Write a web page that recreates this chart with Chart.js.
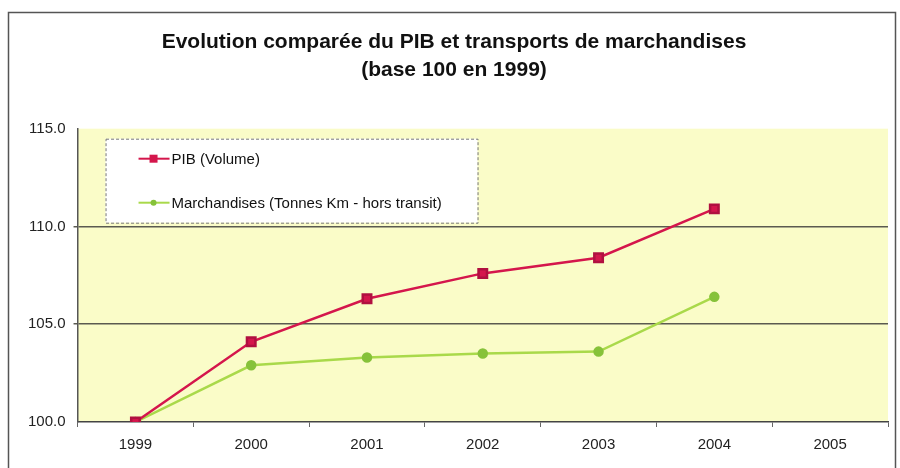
<!DOCTYPE html>
<html>
<head>
<meta charset="utf-8">
<script src="https://cdn.jsdelivr.net/npm/chart.js@4/dist/chart.umd.min.js"></script>
<style>
  html, body { margin: 0; padding: 0; background: #fff; }
  #wrap { width: 900px; height: 468px; }
</style>
</head>
<body>
<div id="wrap"><canvas id="canvas" width="900" height="468"></canvas></div>
<script>
const years = ['1999', '2000', '2001', '2002', '2003', '2004', '2005']
const pib = [100, 104.1, 106.3, 107.6, 108.4, 110.9, null]
const marchandises = [100, 102.9, 103.3, 103.5, 103.6, 106.4, null]
const yTicks = [100, 105, 110, 115]

const FONT = '"Liberation Sans", Arial, sans-serif'

// yellow plot background + outer frame
const backdrop = {
  id: 'backdrop',
  beforeDraw(chart) {
    const { ctx, chartArea: a } = chart
    ctx.save()
    ctx.fillStyle = '#fafcc8'
    ctx.fillRect(a.left, a.top, a.right - a.left, a.bottom - a.top)
    ctx.strokeStyle = '#555'
    ctx.lineWidth = 1.5
    ctx.beginPath()
    ctx.moveTo(8.5, 468)
    ctx.lineTo(8.5, 12.5)
    ctx.lineTo(895.5, 12.5)
    ctx.lineTo(895.5, 468)
    ctx.stroke()
    ctx.restore()
  },
}

// boxed legend drawn inside the plot
const boxLegend = {
  id: 'boxLegend',
  afterDatasetsDraw(chart) {
    const { ctx, chartArea: a } = chart
    const x = a.left + 28, y = a.top + 10, w = 372, h = 84
    ctx.save()
    ctx.fillStyle = '#fff'
    ctx.fillRect(x, y, w, h)
    ctx.setLineDash([3, 2])
    ctx.strokeStyle = '#777'
    ctx.lineWidth = 1
    ctx.strokeRect(x + 0.5, y + 0.5, w, h)
    ctx.setLineDash([])
    const rows = [y + 20, y + 64]
    chart.data.datasets.forEach((ds, i) => {
      const ly = rows[i]
      ctx.strokeStyle = ds.borderColor
      ctx.lineWidth = 2
      ctx.beginPath()
      ctx.moveTo(x + 33, ly)
      ctx.lineTo(x + 64, ly)
      ctx.stroke()
      ctx.fillStyle = ds.pointBackgroundColor
      if (ds.pointStyle === 'rect') {
        ctx.fillRect(x + 44, ly - 4, 8, 8)
      } else {
        ctx.beginPath()
        ctx.arc(x + 48, ly, 3, 0, Math.PI * 2)
        ctx.fill()
      }
      ctx.fillStyle = '#111'
      ctx.font = '15px ' + FONT
      ctx.textBaseline = 'middle'
      ctx.fillText(ds.label, x + 66, ly + 1)
    })
    ctx.restore()
  },
}

const data = {
  labels: years,
  datasets: [
    {
      label: 'PIB (Volume)',
      data: pib,
      borderColor: '#d4164c',
      backgroundColor: '#d4164c',
      pointBackgroundColor: '#d4164c',
      pointBorderColor: '#b01040',
      pointStyle: 'rect',
      pointRadius: 6,
      borderWidth: 2.5,
      tension: 0,
    },
    {
      label: 'Marchandises (Tonnes Km - hors transit)',
      data: marchandises,
      borderColor: '#a9d94a',
      backgroundColor: '#86c23a',
      pointBackgroundColor: '#86c23a',
      pointBorderColor: '#86c23a',
      pointStyle: 'circle',
      pointRadius: 4,
      borderWidth: 2.5,
      tension: 0,
    },
  ],
}

const config = {
  type: 'line',
  data: data,
  options: {
    responsive: false,
    animation: false,
    layout: { padding: { left: 20, right: 12, top: 0, bottom: 5 } },
    plugins: {
      legend: { display: false },
      tooltip: { enabled: false },
      title: {
        display: true,
        text: ['Evolution comparée du PIB et transports de marchandises', '(base 100 en 1999)'],
        color: '#111',
        font: { family: FONT, size: 21, weight: 'bold', lineHeight: 1.35 },
        padding: { top: 28, bottom: 44 },
      },
    },
    scales: {
      x: {
        offset: true,
        grid: {
          offset: true,
          drawOnChartArea: false,
          drawTicks: true,
          tickLength: 5,
          color: '#666',
        },
        border: { display: true, color: '#444', width: 1.5 },
        ticks: {
          color: '#222',
          padding: 9,
          font: { family: FONT, size: 15 },
        },
      },
      y: {
        min: 100,
        max: 115,
        afterBuildTicks(axis) {
          axis.ticks = yTicks.map((v) => ({ value: v }))
        },
        grid: {
          tickLength: 4,
          color: (c) => (c.tick && (c.tick.value === 105 || c.tick.value === 110) ? '#5a5a50' : 'rgba(0,0,0,0)'),
          lineWidth: 1.5,
        },
        border: { display: true, color: '#555', width: 1.5 },
        ticks: {
          color: '#222',
          padding: 8,
          font: { family: FONT, size: 15 },
          callback: (v) => Number(v).toFixed(1),
        },
      },
    },
  },
  plugins: [backdrop, boxLegend],
}

const canvas = document.getElementById('canvas')
const chart = new Chart(canvas, config)
</script>
</body>
</html>
